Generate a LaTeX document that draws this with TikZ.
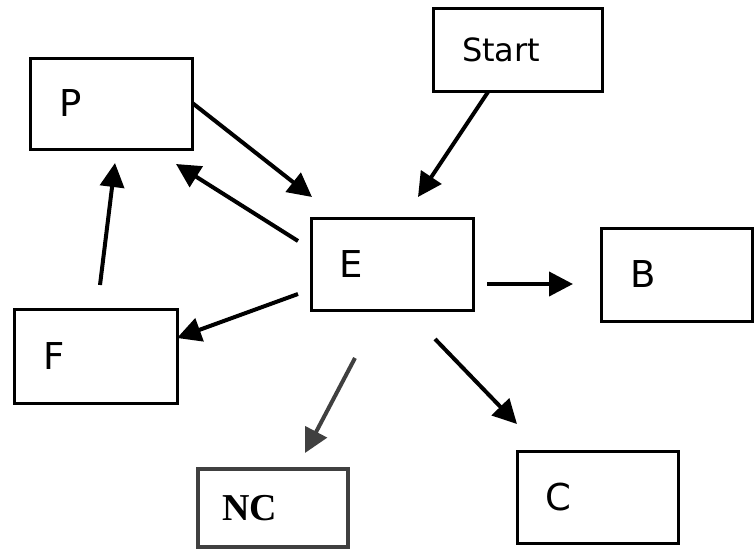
\documentclass[tikz,border=0pt]{standalone}
\usepackage{fontspec}
\setmainfont{DejaVu Sans}
\newfontfamily\ncfont{Liberation Serif}
\usetikzlibrary{arrows.meta}
\definecolor{ncgray}{HTML}{404040}

\begin{document}
\begin{tikzpicture}[x=1pt,y=-1pt]
\tikzstyle{box}=[draw, line width=3pt, outer sep=0pt, inner xsep=29pt, inner ysep=0pt, align=left, font=\fontsize{37}{40}\selectfont]
\tikzstyle{link}=[line width=4pt, -{Triangle[length=24pt,width=24pt]}]
\useasboundingbox (0,0) rectangle (754,549);
\node [box, text width=104pt, minimum height=91pt] (P) at (111,103.5) {P};
\node [box, text width=111pt, minimum height=83pt, font=\fontsize{32}{36}\selectfont] (Start) at (517.5,49.5) {Start};
\node [box, text width=106pt, minimum height=92pt, inner xsep=28pt] (E) at (392,264) {E};
\node [box, text width=93pt, minimum height=93pt] (B) at (676.5,274.5) {B};
\node [box, text width=105pt, minimum height=94pt] (F) at (95.5,356) {F};
\node [box, text width=105pt, minimum height=92pt, inner xsep=28pt] (C) at (597.5,497) {C};
\node [box, draw=ncgray, line width=4pt, text width=102pt, minimum height=78pt, inner xsep=24pt, font=\ncfont\bfseries\fontsize{38}{40}\selectfont] (NC) at (273,508) {NC};
\draw [link] ([shift={(1,0)}]P.east) -- ([shift={(1,-21)}]E.north west);
\draw [link] ([shift={(-13,-23)}]E.west) -- ([shift={(-16,15)}]P.south east);
\draw [link] ([shift={(4.5,-24)}]F.north) -- ([shift={(4,14)}]P.south);
\draw [link] ([shift={(-29.5,1)}]Start.south) -- ([shift={(26,-21)}]E.north);
\draw [link] ([shift={(14,20)}]E.east) -- ([shift={(-28,9.5)}]B.west);
\draw [link] ([shift={(-13,30)}]E.west) -- ([shift={(0,-18)}]F.east);
\draw [link, draw=ncgray] ([shift={(-37,48)}]E.south) -- ([shift={(32,-16)}]NC.north);
\draw [link] ([shift={(43,29)}]E.south) -- ([shift={(0,-27)}]C.north west);
\end{tikzpicture}
\end{document}
